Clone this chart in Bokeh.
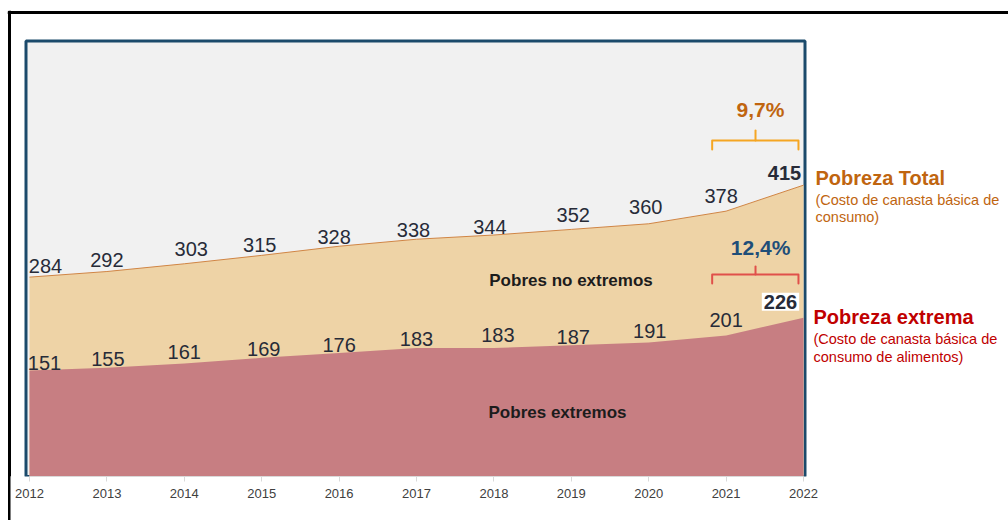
from bokeh.plotting import figure
from bokeh.models import (ColumnDataSource, Range1d, FixedTicker, Span, Label,
                          BoxAnnotation)
from bokeh.core.properties import value
from bokeh.embed import file_html
from bokeh.resources import INLINE

# ---------------- data ----------------
years = [2012, 2013, 2014, 2015, 2016, 2017, 2018, 2019, 2020, 2021, 2022]
pobreza_total = [284, 292, 303, 315, 328, 338, 344, 352, 360, 378, 415]
pobreza_extrema = [151, 155, 161, 169, 176, 183, 183, 187, 191, 201, 226]
var_total = "9,7%"
var_extrema = "12,4%"
serie_total = "Pobreza Total"
serie_total_sub = ["(Costo de canasta básica  de", "consumo)"]
serie_extrema = "Pobreza extrema"
serie_extrema_sub = ["(Costo de canasta básica  de", "consumo de alimentos)"]
area_total = "Pobres no extremos"
area_extrema = "Pobres extremos"

# ---------------- layout constants ----------------
LEFT, TOP, BOTTOM = 7, 10, 476          # frame edges on the canvas (px)
FRAME_W, FRAME_H = 1001, BOTTOM - TOP
PX_PER_YEAR = 77.4
PX_PER_UNIT = 0.702
X_FIRST_PX = 29                          # canvas x of the first year
X0 = years[0] - (X_FIRST_PX - LEFT) / PX_PER_YEAR
X1 = X0 + FRAME_W / PX_PER_YEAR
Y_MAX = FRAME_H / PX_PER_UNIT
UPP = 1 / PX_PER_UNIT
XPP = 1 / PX_PER_YEAR


def xd(px):
    return X0 + (px - LEFT) * XPP


def yd(py):
    return (BOTTOM - py) * UPP


# label nudges (screen px): dx right, dy above the line
total_dx = [16, 0, 7, -2, -5, -3, -4, 2, -3, -5]
total_dy = [11, 12, 15, 10, 9, 9, 8.5, 14, 16.5, 15]
extrema_dx = [15, 1, 0, 2, 0, 0, 4, 2, 1, 0]
extrema_dy = [7, 9, 11, 9, 8, 9, 13, 8, 11, 15]

FONT = value("Liberation Sans")
NAVY = "#1b4a6b"
TAN = "#eed3a6"
ROSE = "#c77e82"
ORANGE_TXT = "#c0650f"
ORANGE_BR = "#f5a623"
RED = "#c00000"
RED_BR = "#e0504a"
LABEL_C = "#272b38"

p = figure(frame_width=FRAME_W, frame_height=FRAME_H,
           min_border_left=LEFT, min_border_right=0,
           min_border_top=TOP, min_border_bottom=520 - BOTTOM,
           x_range=Range1d(X0, X1), y_range=Range1d(0, Y_MAX),
           output_backend="svg", toolbar_location=None)
p.background_fill_alpha = 0
p.border_fill_alpha = 0
p.outline_line_color = None
p.grid.visible = False
p.yaxis.visible = False
p.styles = {
    "background": "linear-gradient(#000,#000) 8px 11px / 2.5px 100% no-repeat, "
                  "linear-gradient(#000,#000) 8px 11px / 100% 2.5px no-repeat, #fff"
}

xa = p.xaxis[0]
xa.ticker = FixedTicker(ticks=years)
xa.bounds = (years[0], years[-1])
xa.axis_line_color = "#d9d9d9"
xa.major_tick_line_color = "#d9d9d9"
xa.major_tick_out = 5
xa.major_tick_in = 0
xa.minor_tick_line_color = None
xa.major_label_text_font = "Liberation Sans"
xa.major_label_text_font_size = "13px"
xa.major_label_text_color = "#404040"
xa.major_label_standoff = 7

# plot area (grey box with navy border), under the areas
p.add_layout(BoxAnnotation(left=xd(25.5), right=xd(804.5), top=yd(40.5), bottom=0,
                           fill_color="#f1f1f1", fill_alpha=1,
                           line_color=NAVY, line_alpha=1, line_width=3,
                           level="underlay"))

# areas
p.varea(x=years, y1=0, y2=pobreza_total, fill_color=TAN)
p.varea(x=years, y1=0, y2=pobreza_extrema, fill_color=ROSE)
p.line(years, pobreza_total, line_color="#d08545", line_width=1)

# outer black lines (top and left)
p.add_layout(Span(location=xd(9.25), dimension="height", line_color="black", line_width=2.5))
p.add_layout(Span(location=yd(12.25), dimension="width", line_color="black", line_width=2.5))

# value labels
src_t = ColumnDataSource(dict(x=years[:-1], y=pobreza_total[:-1],
                              t=[str(v) for v in pobreza_total[:-1]],
                              dx=total_dx, dy=[-d for d in total_dy]))
src_e = ColumnDataSource(dict(x=years[:-1], y=pobreza_extrema[:-1],
                              t=[str(v) for v in pobreza_extrema[:-1]],
                              dx=extrema_dx, dy=[-d for d in extrema_dy]))
for src in (src_t, src_e):
    p.text(x="x", y="y", text="t", x_offset="dx", y_offset="dy", source=src,
           text_align="center", text_baseline="middle", text_font=FONT,
           text_font_size="20px", text_color=LABEL_C)

p.add_layout(Label(x=years[-1], y=pobreza_total[-1], text=str(pobreza_total[-1]),
                   x_offset=-19, y_offset=12, text_align="center", text_baseline="middle",
                   text_font="Liberation Sans", text_font_size="20px",
                   text_font_style="bold", text_color=LABEL_C))
p.add_layout(Label(x=years[-1], y=pobreza_extrema[-1], text=str(pobreza_extrema[-1]),
                   x_offset=-23, y_offset=16, text_align="center", text_baseline="middle",
                   text_font="Liberation Sans", text_font_size="20px",
                   text_font_style="bold", text_color=LABEL_C,
                   background_fill_color="white", padding=2))


# brackets + variation labels
def bracket(base, h_px, end_px, notch_px, color):
    xl = years[-2] - 0.18
    xr = years[-1] - 0.065
    xm = years[-2] + 0.38
    yh = base + h_px * UPP
    ye = base + end_px * UPP
    yn = base + notch_px * UPP
    p.multi_line(xs=[[xl, xl, xr, xr], [xm, xm]], ys=[[ye, yh, yh, ye], [yh, yn]],
                 line_color=color, line_width=2, line_join="round", line_cap="round")


bracket(pobreza_total[-1], 44.7, 35.7, 54.7, ORANGE_BR)
bracket(pobreza_extrema[-1], 43.3, 34.3, 51.3, RED_BR)

p.add_layout(Label(x=years[-2] + 0.445, y=pobreza_total[-1], y_offset=75.7, text=var_total,
                   text_align="center", text_baseline="middle", text_font="Liberation Sans",
                   text_font_size="21px", text_font_style="bold", text_color=ORANGE_TXT))
p.add_layout(Label(x=years[-2] + 0.445, y=pobreza_extrema[-1], y_offset=70.6, text=var_extrema,
                   text_align="center", text_baseline="middle", text_font="Liberation Sans",
                   text_font_size="21px", text_font_style="bold", text_color="#1f4e79"))

# area names
p.add_layout(Label(x=xd(570.5), y=yd(280), text=area_total, text_align="center",
                   text_baseline="middle", text_font="Liberation Sans", text_font_size="17px",
                   text_font_style="bold", text_color="#1c1c1c"))
p.add_layout(Label(x=xd(557), y=yd(412), text=area_extrema, text_align="center",
                   text_baseline="middle", text_font="Liberation Sans", text_font_size="17px",
                   text_font_style="bold", text_color="#1c1c1c"))

# right-side legends (text centres in canvas px)
p.add_layout(Label(x=xd(815), y=yd(177), text=serie_total, text_align="left",
                   text_baseline="middle", text_font="Liberation Sans",
                   text_font_size="20px", text_font_style="bold", text_color=ORANGE_TXT))
for s, yc in zip(serie_total_sub, [199, 216.5]):
    p.add_layout(Label(x=xd(815), y=yd(yc), text=s, text_align="left",
                       text_baseline="middle", text_font="Liberation Sans",
                       text_font_size="14.5px", text_color=ORANGE_TXT))
p.add_layout(Label(x=xd(813), y=yd(316), text=serie_extrema, text_align="left",
                   text_baseline="middle", text_font="Liberation Sans",
                   text_font_size="20px", text_font_style="bold", text_color=RED))
for s, yc in zip(serie_extrema_sub, [338, 356]):
    p.add_layout(Label(x=xd(813), y=yd(yc), text=s, text_align="left",
                       text_baseline="middle", text_font="Liberation Sans",
                       text_font_size="14.5px", text_color=RED))

open("out.html", "w").write(file_html(p, INLINE))
